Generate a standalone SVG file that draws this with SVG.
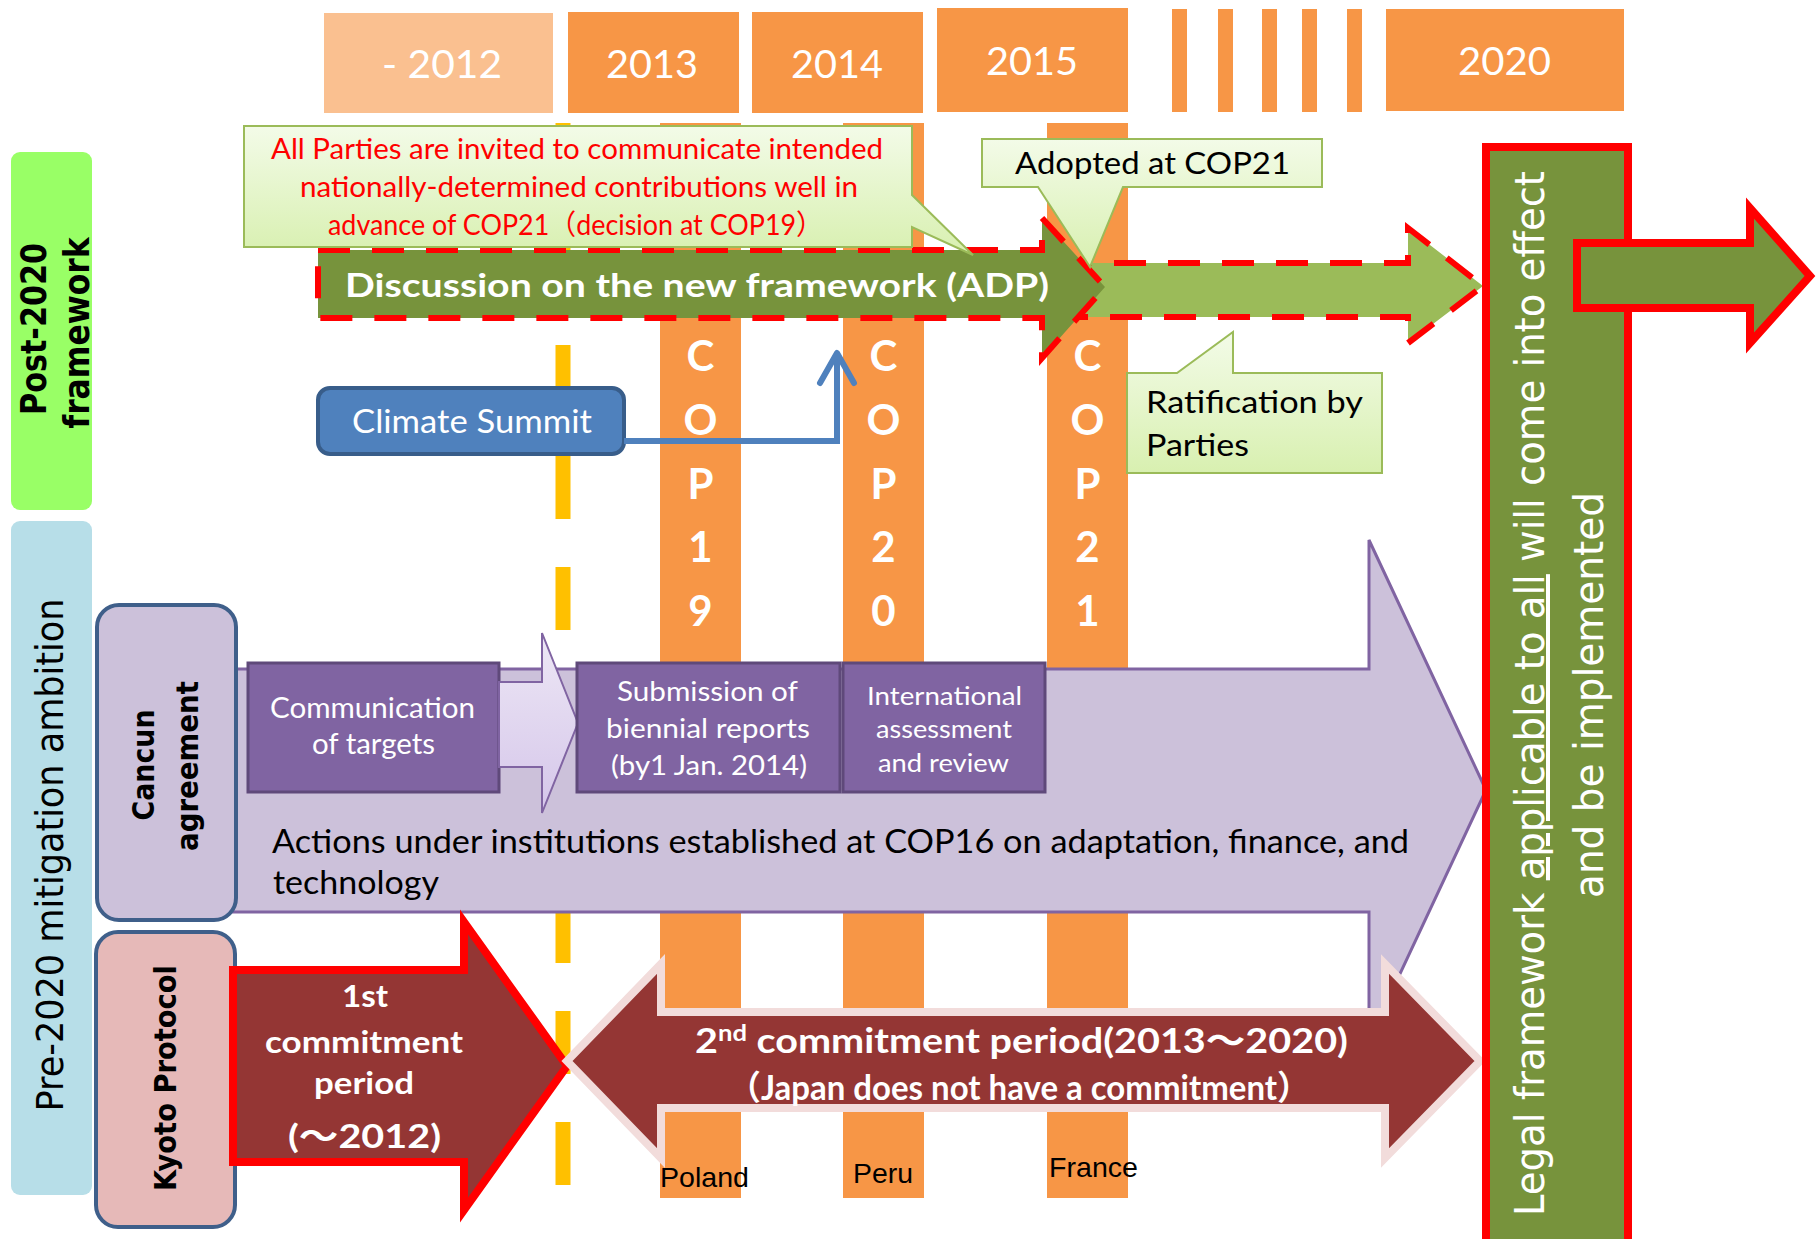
<svg xmlns="http://www.w3.org/2000/svg" width="1816" height="1239" viewBox="0 0 1816 1239">
<defs>
<style>
.cal{font-family:Lato,"Liberation Sans","Noto Sans CJK JP",sans-serif}
.ver{font-family:"DejaVu Sans","Noto Sans CJK JP",sans-serif}
.ari{font-family:"Liberation Sans",Arial,sans-serif}
.w{fill:#FFFFFF}
.k{fill:#000000}
.b{font-weight:bold}
.yr{font-size:39px}
.cop{font-family:Lato,"Liberation Sans",sans-serif;font-size:42px;font-weight:bold;fill:#FFFFFF;text-anchor:middle}
.orange{fill:#F79646}
.dash{stroke:#FF0000;stroke-width:6;stroke-dasharray:32 22;stroke-linejoin:miter}
.call{fill:url(#callG);stroke:#9BBB59;stroke-width:2}
.pbox{fill:#8064A2;stroke:#5F497A;stroke-width:3}
.lbl{text-anchor:middle}
</style>
<linearGradient id="callG" x1="0" y1="0" x2="0" y2="1">
<stop offset="0" stop-color="#F3FBE8"/>
<stop offset="1" stop-color="#D8F0B0"/>
</linearGradient>
<linearGradient id="lavG" x1="0" y1="0" x2="0" y2="1">
<stop offset="0" stop-color="#EDE7F5"/>
<stop offset="1" stop-color="#D5C6EA"/>
</linearGradient>
<marker id="openArrow" viewBox="-34 -22 40 44" refX="0" refY="0" markerWidth="40" markerHeight="44" markerUnits="userSpaceOnUse" orient="auto">
<path d="M-30,-17 L0,0 L-30,17" fill="none" stroke="#4F81BD" stroke-width="6" stroke-linecap="round" stroke-linejoin="round"/>
</marker>
</defs>
<rect width="1816" height="1239" fill="#FFFFFF"/>

<g id="timeline">
<rect x="324" y="13" width="229" height="100" fill="#FAC090"/>
<rect class="orange" x="568" y="12" width="171" height="101"/>
<rect class="orange" x="752" y="12" width="171" height="101"/>
<rect class="orange" x="937" y="8" width="191" height="104"/>
<rect class="orange" x="1172" y="9" width="15" height="103"/>
<rect class="orange" x="1218" y="9" width="15" height="103"/>
<rect class="orange" x="1262" y="9" width="15" height="103"/>
<rect class="orange" x="1302" y="9" width="15" height="103"/>
<rect class="orange" x="1347" y="9" width="15" height="103"/>
<rect class="orange" x="1386" y="9" width="238" height="102"/>
<text class="cal w yr" x="382" y="78" textLength="120" lengthAdjust="spacingAndGlyphs">- 2012</text>
<text class="cal w yr" x="606" y="78" textLength="92" lengthAdjust="spacingAndGlyphs">2013</text>
<text class="cal w yr" x="791" y="78" textLength="92" lengthAdjust="spacingAndGlyphs">2014</text>
<text class="cal w yr" x="986" y="75" textLength="92" lengthAdjust="spacingAndGlyphs">2015</text>
<text class="cal w yr" x="1458" y="75" textLength="93" lengthAdjust="spacingAndGlyphs">2020</text>
</g>

<g id="cop-columns">
<rect class="orange" x="660" y="123" width="81" height="1075"/>
<rect class="orange" x="843" y="123" width="81" height="1075"/>
<rect class="orange" x="1047" y="123" width="81" height="1075"/>
</g>

<g id="divider-2012">
<line x1="563" y1="123" x2="563" y2="1190" stroke="#FFC000" stroke-width="15" stroke-dasharray="63 48"/>
</g>

<g id="post2020-label">
<rect x="11" y="152" width="81" height="358" rx="9" fill="#99FF66"/>
<text class="ver b k lbl" font-size="36" transform="translate(46,329) rotate(-90)" textLength="172" lengthAdjust="spacingAndGlyphs">Post-2020</text>
<text class="ver b k lbl" font-size="36" transform="translate(89,333) rotate(-90)" textLength="191" lengthAdjust="spacingAndGlyphs">framework</text>
</g>

<g id="pre2020-label">
<rect x="11" y="521" width="81" height="674" rx="9" fill="#B7DEE8"/>
<text class="ver k lbl" font-size="37" transform="translate(63,855) rotate(-90)" textLength="513" lengthAdjust="spacingAndGlyphs">Pre-2020 mitigation ambition</text>
</g>

<g id="cancun-actions">
<path d="M228,669 H1369 V540 L1486,790 L1369,1040 V912 H228 Z" fill="#CCC1DA" stroke="#8064A2" stroke-width="3"/>
<text class="cal k" font-size="32" x="272" y="853" textLength="1137" lengthAdjust="spacingAndGlyphs">Actions under institutions established at COP16 on adaptation, finance, and</text>
<text class="cal k" font-size="32" x="273" y="894" textLength="166" lengthAdjust="spacingAndGlyphs">technology</text>
</g>

<g id="cancun-label">
<rect x="97" y="605" width="139" height="315" rx="22" fill="#CCC1DA" stroke="#3F5F8A" stroke-width="4"/>
<text class="ver b k lbl" font-size="30" transform="translate(154,765) rotate(-90)" textLength="111" lengthAdjust="spacingAndGlyphs">Cancun</text>
<text class="ver b k lbl" font-size="30" transform="translate(198,766) rotate(-90)" textLength="170" lengthAdjust="spacingAndGlyphs">agreement</text>
</g>

<g id="communication">
<rect class="pbox" x="248" y="663" width="251" height="129"/>
<text class="cal w" font-size="28" x="270" y="718" textLength="205" lengthAdjust="spacingAndGlyphs">Communication</text>
<text class="cal w" font-size="28" x="312" y="754" textLength="123" lengthAdjust="spacingAndGlyphs">of targets</text>
</g>

<g id="step-arrow">
<path d="M499,682 H542 V633 L578,723 L542,813 V767 H499 Z" fill="url(#lavG)" stroke="#8064A2" stroke-width="2"/>
</g>

<g id="submission">
<rect class="pbox" x="577" y="663" width="263" height="129"/>
<text class="cal w" font-size="27" x="617" y="701" textLength="181" lengthAdjust="spacingAndGlyphs">Submission of</text>
<text class="cal w" font-size="27" x="606" y="738" textLength="204" lengthAdjust="spacingAndGlyphs">biennial reports</text>
<text class="cal w" font-size="27" x="611" y="775" textLength="196" lengthAdjust="spacingAndGlyphs">(by1 Jan. 2014)</text>
</g>

<g id="international">
<rect class="pbox" x="843" y="663" width="202" height="129"/>
<text class="cal w" font-size="25" x="867" y="705" textLength="155" lengthAdjust="spacingAndGlyphs">International</text>
<text class="cal w" font-size="25" x="876" y="738" textLength="136" lengthAdjust="spacingAndGlyphs">assessment</text>
<text class="cal w" font-size="25" x="878" y="772" textLength="131" lengthAdjust="spacingAndGlyphs">and review</text>
</g>

<g id="kyoto-label">
<rect x="96" y="932" width="139" height="295" rx="22" fill="#E6B9B8" stroke="#3F5F8A" stroke-width="4"/>
<text class="ver b k lbl" font-size="30" transform="translate(176,1078) rotate(-90)" textLength="226" lengthAdjust="spacingAndGlyphs">Kyoto Protocol</text>
</g>

<g id="first-commitment">
<path d="M233,970 H464 V922 L567,1066 L464,1210 V1162 H233 Z" fill="#943634" stroke="#FF0000" stroke-width="8" stroke-linejoin="miter"/>
<text class="cal b w" font-size="31" x="342" y="1007" textLength="46" lengthAdjust="spacingAndGlyphs">1st</text>
<text class="cal b w" font-size="31" x="265" y="1053" textLength="198" lengthAdjust="spacingAndGlyphs">commitment</text>
<text class="cal b w" font-size="31" x="314" y="1094" textLength="100" lengthAdjust="spacingAndGlyphs">period</text>
<text class="cal b w" font-size="33" x="288" y="1148" textLength="153" lengthAdjust="spacingAndGlyphs">(～2012)</text>
</g>

<g id="second-commitment">
<path d="M567,1061 L661,964 V1012 H1385 V964 L1480,1061 L1385,1158 V1108 H661 V1158 Z" fill="#943634" stroke="#F2DCDB" stroke-width="8"/>
<text class="cal b w" font-size="34" x="695" y="1053" textLength="653" lengthAdjust="spacingAndGlyphs">2<tspan font-size="22" dy="-12">nd</tspan><tspan dy="12"> commitment period(2013～2020)</tspan></text>
<text class="cal b w" font-size="34" x="728" y="1100" textLength="582" lengthAdjust="spacingAndGlyphs">（Japan does not have a commitment）</text>
</g>

<g id="cop-labels">
<text class="cop" x="700.5" y="371">C</text>
<text class="cop" x="700.5" y="435">O</text>
<text class="cop" x="700.5" y="499">P</text>
<text class="cop" x="700.5" y="562">1</text>
<text class="cop" x="700.5" y="626">9</text>
<text class="cop" x="883.5" y="371">C</text>
<text class="cop" x="883.5" y="435">O</text>
<text class="cop" x="883.5" y="499">P</text>
<text class="cop" x="883.5" y="562">2</text>
<text class="cop" x="883.5" y="626">0</text>
<text class="cop" x="1087.5" y="371">C</text>
<text class="cop" x="1087.5" y="435">O</text>
<text class="cop" x="1087.5" y="499">P</text>
<text class="cop" x="1087.5" y="562">2</text>
<text class="cop" x="1087.5" y="626">1</text>
<text class="ari k" font-size="28" x="660" y="1187" textLength="89" lengthAdjust="spacingAndGlyphs">Poland</text>
<text class="ari k" font-size="28" x="853" y="1183" textLength="60" lengthAdjust="spacingAndGlyphs">Peru</text>
<text class="ari k" font-size="28" x="1049" y="1177" textLength="89" lengthAdjust="spacingAndGlyphs">France</text>
</g>

<g id="ratification-phase">
<path class="dash" d="M1060,263 H1408 V228 L1483,286 L1408,343 V317 H1060 Z" fill="#9BBB59"/>
</g>

<g id="adp">
<path class="dash" d="M318,250 H1042 V218 L1105,287 L1042,358 V318 H318 Z" fill="#77933C"/>
<text class="cal b w" font-size="33" x="345" y="297" textLength="704" lengthAdjust="spacingAndGlyphs">Discussion on the new framework (ADP)</text>
</g>

<g id="indc-callout">
<path class="call" d="M244,126 H912 V195 L973,255 L912,227 V247 H244 Z"/>
<text class="cal" fill="#FF0000" font-size="28" x="271" y="159" textLength="612" lengthAdjust="spacingAndGlyphs">All Parties are invited to communicate intended</text>
<text class="cal" fill="#FF0000" font-size="28" x="300" y="197" textLength="558" lengthAdjust="spacingAndGlyphs">nationally-determined contributions well in</text>
<text class="cal" fill="#FF0000" font-size="28" x="328" y="235" textLength="495" lengthAdjust="spacingAndGlyphs">advance of COP21（decision at COP19）</text>
</g>

<g id="adopted-callout">
<path class="call" d="M982,139 H1322 V187 H1123 L1090,267 L1038,187 H982 Z"/>
<text class="cal k" font-size="30" x="1015" y="174" textLength="275" lengthAdjust="spacingAndGlyphs">Adopted at COP21</text>
</g>

<g id="ratification-callout">
<path class="call" d="M1127,373 H1177 L1233,332 V373 H1382 V473 H1127 Z"/>
<text class="cal k" font-size="30" x="1146" y="413" textLength="217" lengthAdjust="spacingAndGlyphs">Ratification by</text>
<text class="cal k" font-size="30" x="1146" y="456" textLength="103" lengthAdjust="spacingAndGlyphs">Parties</text>
</g>

<g id="climate-summit">
<rect x="318" y="388" width="306" height="66" rx="12" fill="#4F81BD" stroke="#385D8A" stroke-width="4"/>
<text class="cal w" font-size="32" x="352" y="433" textLength="240" lengthAdjust="spacingAndGlyphs">Climate Summit</text>
</g>

<g id="connectors">
<path d="M624,441 H837 V353" fill="none" stroke="#4F81BD" stroke-width="6" marker-end="url(#openArrow)"/>
</g>

<g id="legal-framework">
<rect x="1486" y="147" width="142" height="1110" fill="#77933C" stroke="#FF0000" stroke-width="8"/>
<text class="ver w lbl" font-size="40" transform="translate(1544,693.5) rotate(-90)" textLength="1045" lengthAdjust="spacingAndGlyphs">Legal framework <tspan text-decoration="underline">applicable to all</tspan> will come into effect</text>
<text class="ver w lbl" font-size="40" transform="translate(1603,695) rotate(-90)" textLength="406" lengthAdjust="spacingAndGlyphs">and be implemented</text>
</g>

<g id="beyond-2020">
<path d="M1577,243 H1750 V208 L1810,276 L1750,343 V308 H1577 Z" fill="#77933C" stroke="#FF0000" stroke-width="8"/>
</g>
</svg>
